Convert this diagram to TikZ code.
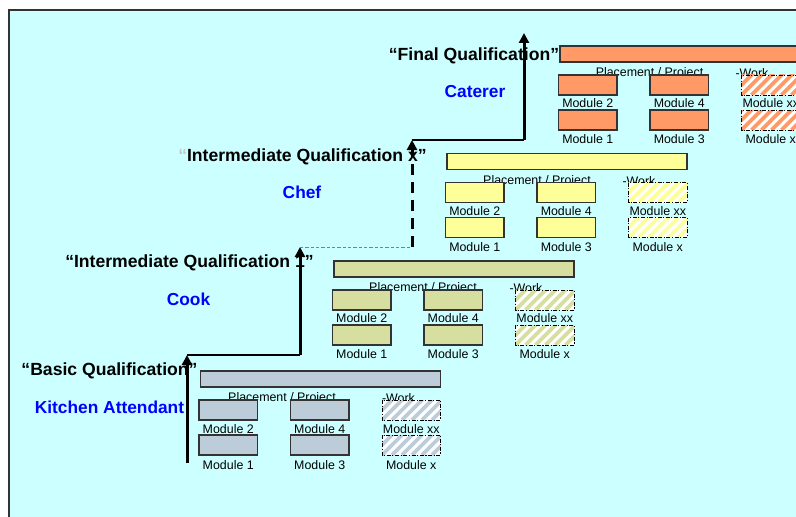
\documentclass[tikz,border=0pt]{standalone}
\usepackage{fontspec}
\setmainfont{Liberation Sans}
\usetikzlibrary{arrows.meta}

\definecolor{bgcyan}{RGB}{204,255,255}
\definecolor{kagrey}{RGB}{188,205,217}
\definecolor{coolive}{RGB}{214,222,160}
\definecolor{chyellow}{RGB}{255,255,153}
\definecolor{caorange}{RGB}{255,153,102}
\definecolor{edgegrey}{RGB}{51,51,51}

\tikzset{every picture/.style={line width=0.75pt}}
\tikzset{
	bar/.style={draw=edgegrey, line width=0.9pt},
	modbox/.style={draw=edgegrey, line width=0.9pt},
	workbox/.style={draw=black, line width=0.6pt, dash pattern=on 3pt off 1.2pt on 0.8pt off 1.2pt, fill=white,
		path picture={\foreach \k in {-3,...,6}
			\draw [draw=#1, line width=2.7pt, solid] ([xshift=\k*7.5pt]path picture bounding box.south west) -- ++(30,-30);}},
	smalltxt/.style={font=\fontsize{9.3}{10}\selectfont, inner sep=0pt},
	titletxt/.style={font=\fontsize{13.2}{15}\selectfont\bfseries, inner sep=0pt},
	jobtxt/.style={font=\fontsize{13}{15}\selectfont\bfseries, text=blue, inner sep=0pt},
	steparrow/.style={line width=2.25pt, -{Triangle[width=7.5pt,length=7.5pt]}},
	stepline/.style={line width=1.1pt},
	gapline/.style={draw=gray, line width=0.75pt, dash pattern=on 2.5pt off 1.5pt}}

\begin{document}
\begin{tikzpicture}[x=0.75pt,y=0.75pt,yscale=-1,xscale=1]
		\useasboundingbox (0,0) rectangle (796,517);
		\clip (0,0) rectangle (796,517);

		%Shape: Rectangle (background)
		\draw [draw=edgegrey, line width=1.5pt, fill=bgcyan] (9,10) rectangle (810,530);

		% Level: Kitchen Attendant
		\draw [bar, fill=kagrey] (200.5,371) rectangle (440.5,387);
		\node [smalltxt] (ka-place) at (282,398.5) {Placement / Project};
		\node [smalltxt] (ka-work) at (398.5,398.5) {-Work};
		\draw [modbox, fill=kagrey] (199,400) rectangle (257.5,420);
		\draw [modbox, fill=kagrey] (290.5,400) rectangle (349,420);
		\draw [workbox=kagrey] (382,400) rectangle (440.5,420);
		\draw [modbox, fill=kagrey] (199,435) rectangle (257.5,455);
		\draw [modbox, fill=kagrey] (290.5,435) rectangle (349,455);
		\draw [workbox=kagrey] (382,435) rectangle (440.5,455);
		\node [smalltxt] (ka-m2) at (228.25,429) {Module 2};
		\node [smalltxt] (ka-m4) at (319.75,429) {Module 4};
		\node [smalltxt] (ka-mxx) at (411.25,429) {Module xx};
		\node [smalltxt] (ka-m1) at (228.25,465) {Module 1};
		\node [smalltxt] (ka-m3) at (319.75,465) {Module 3};
		\node [smalltxt] (ka-mx) at (411.25,465) {Module x};

		% Level: Cook
		\draw [bar, fill=coolive] (334,261) rectangle (574,277);
		\node [smalltxt] (co-place) at (423,288.5) {Placement / Project};
		\node [smalltxt] (co-work) at (526,288.5) {-Work};
		\draw [modbox, fill=coolive] (332.5,290) rectangle (391,310);
		\draw [modbox, fill=coolive] (424,290) rectangle (482.5,310);
		\draw [workbox=coolive] (515.5,290) rectangle (574,310);
		\draw [modbox, fill=coolive] (332.5,325) rectangle (391,345);
		\draw [modbox, fill=coolive] (424,325) rectangle (482.5,345);
		\draw [workbox=coolive] (515.5,325) rectangle (574,345);
		\node [smalltxt] (co-m2) at (361.75,318.5) {Module 2};
		\node [smalltxt] (co-m4) at (453.25,318.5) {Module 4};
		\node [smalltxt] (co-mxx) at (544.75,318.5) {Module xx};
		\node [smalltxt] (co-m1) at (361.75,354.5) {Module 1};
		\node [smalltxt] (co-m3) at (453.25,354.5) {Module 3};
		\node [smalltxt] (co-mx) at (544.75,354.5) {Module x};

		% Level: Chef
		\draw [bar, fill=chyellow] (447,153.5) rectangle (687,169.5);
		\node [smalltxt] (ch-place) at (537,181) {Placement / Project};
		\node [smalltxt] (ch-work) at (639,181) {-Work};
		\draw [modbox, fill=chyellow] (445.5,182.5) rectangle (504,202.5);
		\draw [modbox, fill=chyellow] (537,182.5) rectangle (595.5,202.5);
		\draw [workbox=chyellow] (628.5,182.5) rectangle (687,202.5);
		\draw [modbox, fill=chyellow] (445.5,217.5) rectangle (504,237.5);
		\draw [modbox, fill=chyellow] (537,217.5) rectangle (595.5,237.5);
		\draw [workbox=chyellow] (628.5,217.5) rectangle (687,237.5);
		\node [smalltxt] (ch-m2) at (474.75,211) {Module 2};
		\node [smalltxt] (ch-m4) at (566.25,211) {Module 4};
		\node [smalltxt] (ch-mxx) at (657.75,211) {Module xx};
		\node [smalltxt] (ch-m1) at (474.75,247) {Module 1};
		\node [smalltxt] (ch-m3) at (566.25,247) {Module 3};
		\node [smalltxt] (ch-mx) at (657.75,247) {Module x};

		% Level: Caterer
		\draw [bar, fill=caorange] (560,46) rectangle (805,62);
		\node [smalltxt] (ca-place) at (649.5,73.5) {Placement / Project};
		\node [smalltxt] (ca-work) at (752,73.5) {-Work};
		\draw [modbox, fill=caorange] (558.5,75) rectangle (617,95);
		\draw [modbox, fill=caorange] (650,75) rectangle (708.5,95);
		\draw [workbox=caorange] (741.5,75) rectangle (800,95);
		\draw [modbox, fill=caorange] (558.5,110) rectangle (617,130);
		\draw [modbox, fill=caorange] (650,110) rectangle (708.5,130);
		\draw [workbox=caorange] (741.5,110) rectangle (800,130);
		\node [smalltxt] (ca-m2) at (587.75,103.5) {Module 2};
		\node [smalltxt] (ca-m4) at (679.25,103.5) {Module 4};
		\node [smalltxt] (ca-mxx) at (770.75,103.5) {Module xx};
		\node [smalltxt] (ca-m1) at (587.75,139.5) {Module 1};
		\node [smalltxt] (ca-m3) at (679.25,139.5) {Module 3};
		\node [smalltxt] (ca-mx) at (770.75,139.5) {Module x};

		% Text Node
		\node [titletxt] (ka-title) at (109.5,371) {“Basic Qualification”};
		\node [jobtxt] (ka-job) at (109.5,407) {Kitchen Attendant};
		\node [titletxt] (co-title) at (189.5,263) {“Intermediate Qualification 1”};
		\node [jobtxt] (co-job) at (188.5,299) {Cook};
		\node [titletxt] (ch-title) at (302.5,156.5) {{\color{gray!45}“}Intermediate Qualification x”};
		\node [jobtxt] (ch-job) at (302,192) {Chef};
		\node [titletxt] (ca-title) at (474,56) {“Final Qualification”};
		\node [jobtxt] (ca-job) at (475,91.5) {Caterer};

		%Straight Lines (steps)
		\coordinate (ka-start) at (187,463);
		\coordinate (ka-top) at (187,355);
		\coordinate (co-foot) at (300,355);
		\coordinate (co-top) at (300,247);
		\coordinate (ch-foot) at (412,247);
		\coordinate (ch-top) at (412,140);
		\coordinate (ca-foot) at (524,140);
		\coordinate (ca-top) at (524,33);
		\draw [steparrow] (ka-start) -- (ka-top);
		\draw [stepline] (ka-top) -- (co-foot);
		\draw [steparrow] (co-foot) -- (co-top);
		\draw [gapline] (co-top) -- (ch-foot);
		\draw [steparrow, dash pattern=on 8.25pt off 5.25pt] (ch-foot) -- (ch-top);
		\draw [stepline] (ch-top) -- (ca-foot);
		\draw [steparrow] (ca-foot) -- (ca-top);

\end{tikzpicture}
\end{document}
